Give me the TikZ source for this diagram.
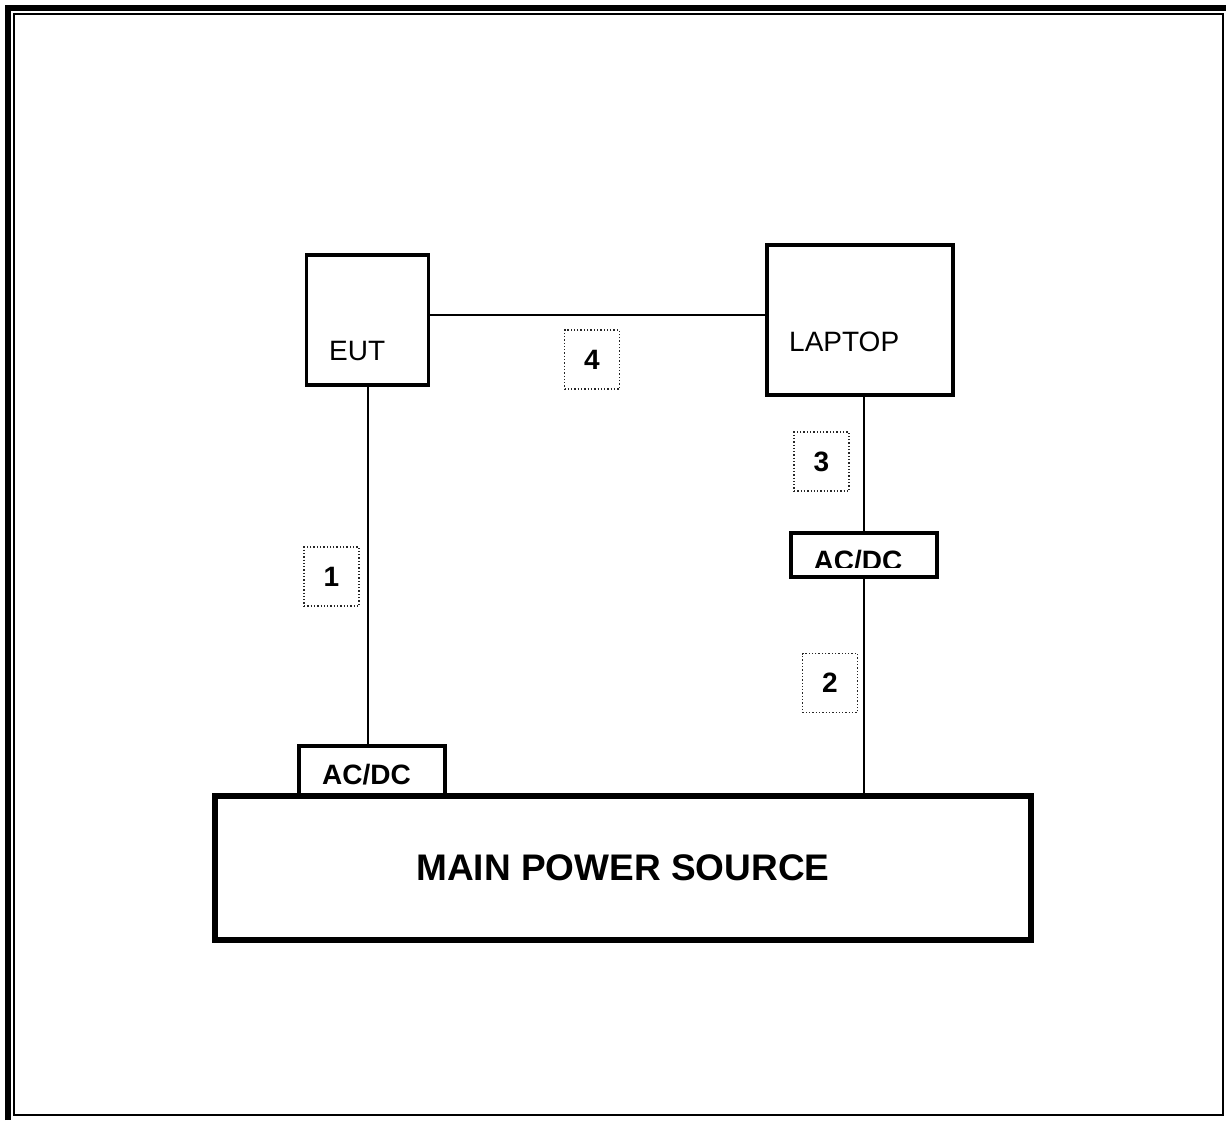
\documentclass[tikz,border=0pt]{standalone}
\usepackage{fontspec}
\setmainfont{Liberation Sans}
\begin{document}
\begin{tikzpicture}[x=1pt, y=-1pt,
    unitbox/.style={draw, line width=3.5pt, inner sep=0pt},
    adapter/.style={draw, line width=4pt, minimum width=146pt, inner sep=0pt},
    numbox/.style={draw=black!85, dotted, line width=1.3pt, minimum width=55pt, minimum height=59pt, inner sep=0pt, font=\bfseries\fontsize{28}{30}\selectfont},
    lbl/.style={inner sep=0pt, font=\fontsize{28}{30}\selectfont},
    boldlbl/.style={inner sep=0pt, font=\bfseries\fontsize{28}{30}\selectfont},
    cable/.style={line width=2pt}]
        % 1. page size and frame
        \useasboundingbox (0,0) rectangle (1226,1120);
        \draw[line width=2pt] (14,14) rectangle (1223,1115);
        \draw[line width=6.5pt] (8,1120) -- (8,8) -- (1226,8);

        % 2. equipment boxes
        \node[unitbox, minimum width=122pt, minimum height=130pt] (eut) at (367.5,320) {};
        \node[lbl, anchor=base west] (euttext) at (329,360) {EUT};
        \node[unitbox, line width=4pt, minimum width=186pt, minimum height=150pt] (laptop) at (859.5,320) {};
        \node[lbl, anchor=base west] (laptoptext) at (789,351) {LAPTOP};
        \node[draw, line width=6pt, minimum width=816pt, minimum height=144pt, inner sep=0pt,
              font=\bfseries\fontsize{37}{40}\selectfont] (mains) at (623,868) {MAIN POWER SOURCE};

        % 3. power adapters (the right label is cut off at its lower edge)
        \node[adapter, minimum height=50pt] (acdcL) at (371.5,771) {};
        \node[boldlbl, anchor=base] (acdcLtext) at (366.5,784) {AC/DC};
        \node[adapter, minimum height=44pt] (acdcR) at (863.5,554.5) {};
        \begin{scope}
            \clip (792,536) rectangle (935,567);
            \node[boldlbl, anchor=base] (acdcRtext) at (858,570) {AC/DC};
        \end{scope}

        % 4. cables
        \draw[cable] (eut.east |- 0,315) -- (laptop.west |- 0,315);
        \draw[cable] (eut.south) -- (eut.south |- acdcL.north);
        \draw[cable] (acdcR.north |- laptop.south) -- (acdcR.north);
        \draw[cable] (acdcR.south) -- (acdcR.south |- mains.north);

        % 5. cable numbers
        \node[numbox] (n1) at (331.5,576.5) {1};
        \node[numbox] (n2) at (830,683) {2};
        \node[numbox] (n3) at (821.5,461.5) {3};
        \node[numbox] (n4) at (592,359.5) {4};
\end{tikzpicture}
\end{document}
